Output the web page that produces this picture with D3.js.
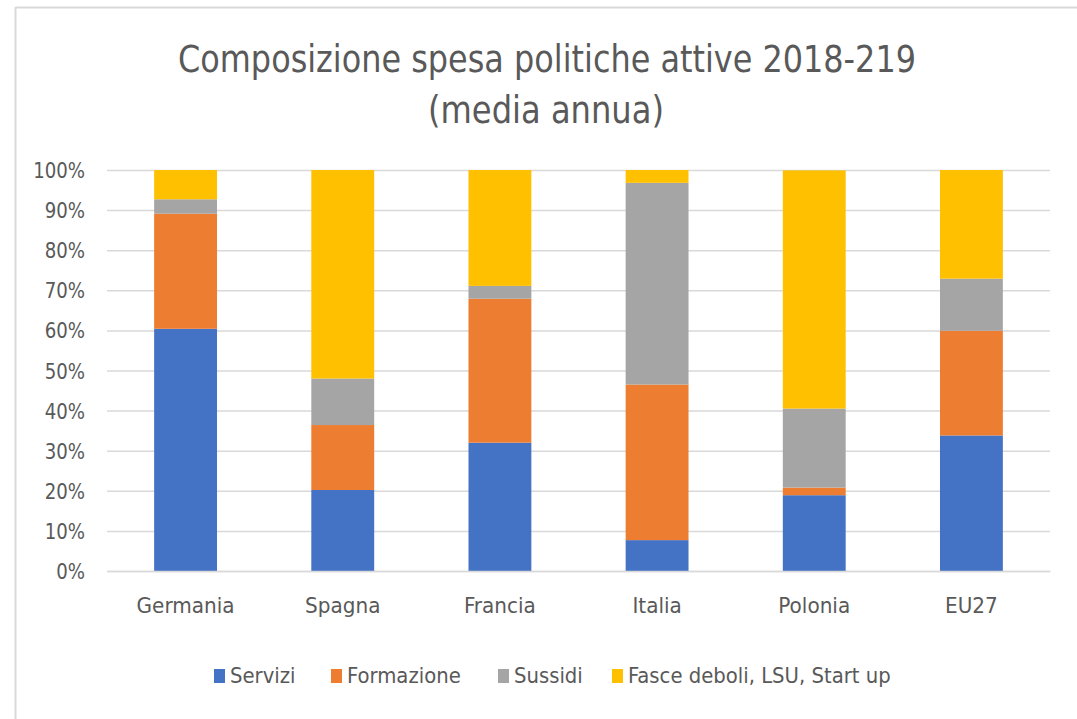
<!DOCTYPE html>
<html>
<head>
<meta charset="utf-8">
<script src="https://cdn.jsdelivr.net/npm/d3@7"></script>
<style>
  body { margin: 0; background: #fff; }
  text { font-family: "DejaVu Sans Condensed", "DejaVu Sans", sans-serif; fill: #595959; }
</style>
</head>
<body>
<div id="chart"></div>
<script>
// data
var countries = ['Germania', 'Spagna', 'Francia', 'Italia', 'Polonia', 'EU27'];
var seriesNames = ['Servizi', 'Formazione', 'Sussidi', 'Fasce deboli, LSU, Start up'];
var servizi    = [60.4, 20.2, 32.0,  7.7, 18.9, 33.8];
var formazione = [28.7, 16.2, 35.9, 38.8,  1.9, 26.1];
var sussidi    = [ 3.6, 11.6,  3.2, 50.3, 19.7, 13.0];
var fasce      = [ 7.3, 52.0, 28.9,  3.2, 59.4, 27.1];
var yTicks = [0, 10, 20, 30, 40, 50, 60, 70, 80, 90, 100];
var colors = ['#4472C4', '#ED7D31', '#A5A5A5', '#FFC000'];

var attrs = {
  svgWidth: 1077,
  svgHeight: 719,
  marginTop: 170,
  marginLeft: 107,
  marginRight: 27,
  marginBottom: 148
};

var calc = {};
calc.chartWidth = attrs.svgWidth - attrs.marginLeft - attrs.marginRight;
calc.chartHeight = attrs.svgHeight - attrs.marginTop - attrs.marginBottom;

var svg = d3.select('#chart').append('svg')
  .attr('width', attrs.svgWidth)
  .attr('height', attrs.svgHeight);

// stretch/squeeze text horizontally to match the source font widths
function condense(sel, factor) {
  sel.each(function () {
    var w = this.getComputedTextLength();
    d3.select(this).attr('textLength', w * factor).attr('lengthAdjust', 'spacingAndGlyphs');
  });
}

// frame (top and left edges only visible)
svg.append('line').attr('x1', 15.5).attr('x2', attrs.svgWidth).attr('y1', 7.5).attr('y2', 7.5)
  .attr('stroke', '#d9d9d9').attr('stroke-width', 2);
svg.append('line').attr('x1', 15.5).attr('x2', 15.5).attr('y1', 7).attr('y2', attrs.svgHeight)
  .attr('stroke', '#d9d9d9').attr('stroke-width', 2);

// title
var title = svg.append('g').attr('class', 'title');
title.append('text').attr('text-anchor', 'middle').attr('x', 547).attr('y', 72)
  .style('font-size', '37px')
  .attr('textLength', 738).attr('lengthAdjust', 'spacingAndGlyphs')
  .text('Composizione spesa politiche attive 2018-219');
title.append('text').attr('text-anchor', 'middle').attr('x', 546).attr('y', 123)
  .style('font-size', '37px')
  .attr('textLength', 236).attr('lengthAdjust', 'spacingAndGlyphs')
  .text('(media annua)');

var chart = svg.append('g')
  .attr('transform', 'translate(' + attrs.marginLeft + ',' + attrs.marginTop + ')');

var table = countries.map(function (c, i) {
  return { country: c, Servizi: servizi[i], Formazione: formazione[i], Sussidi: sussidi[i], 'Fasce deboli, LSU, Start up': fasce[i] };
});

var layers = d3.stack().keys(seriesNames)(table);

var xScale = d3.scaleBand()
  .domain(countries)
  .range([0, calc.chartWidth])
  .paddingInner(0.6)
  .paddingOuter(0.3);

var yScale = d3.scaleLinear()
  .domain([0, 100])
  .range([calc.chartHeight, 0]);

var yAxis = d3.axisLeft(yScale)
  .tickValues(yTicks)
  .tickSize(-calc.chartWidth)
  .tickPadding(22)
  .tickFormat(function (d) { return d + '%'; });

var xAxis = d3.axisBottom(xScale).tickSize(0).tickPadding(27);

var gy = chart.append('g').attr('class', 'yaxis').call(yAxis);
gy.select('.domain').remove();
gy.selectAll('.tick line').attr('stroke', '#d9d9d9').attr('stroke-width', 1.5);
gy.selectAll('.tick text').style('font-size', '21px').attr('fill', '#595959').attr('dy', '0.36em');
condense(gy.selectAll('.tick text'), 0.96);

chart.selectAll('.layer')
  .data(layers)
  .enter().append('g')
  .attr('class', 'layer')
  .attr('fill', function (d, i) { return colors[i]; })
  .selectAll('rect')
  .data(function (d) { return d; })
  .enter().append('rect')
  .attr('x', function (d) { return xScale(d.data.country); })
  .attr('width', xScale.bandwidth())
  .attr('y', function (d) { return yScale(d[1]); })
  .attr('height', function (d) { return yScale(d[0]) - yScale(d[1]); });

var gx = chart.append('g').attr('class', 'xaxis')
  .attr('transform', 'translate(0,' + calc.chartHeight + ')')
  .call(xAxis);
gx.select('.domain').attr('stroke', '#d9d9d9').attr('stroke-width', 1.5);
gx.selectAll('.tick text').style('font-size', '21px').attr('fill', '#595959');
condense(gx.selectAll('.tick text'), 1.06);

// legend
var legendX = [214, 331, 498, 612];
var legend = svg.append('g').attr('class', 'legend');
var items = legend.selectAll('g')
  .data(seriesNames)
  .enter().append('g')
  .attr('transform', function (d, i) { return 'translate(' + legendX[i] + ',683)'; });
items.append('rect')
  .attr('x', 0).attr('y', -14).attr('width', 11).attr('height', 14)
  .attr('fill', function (d, i) { return colors[i]; });
items.append('text')
  .attr('x', 16).attr('y', 0)
  .style('font-size', '21px')
  .text(function (d) { return d; });
condense(items.selectAll('text'), 1.04);
</script>
</body>
</html>
